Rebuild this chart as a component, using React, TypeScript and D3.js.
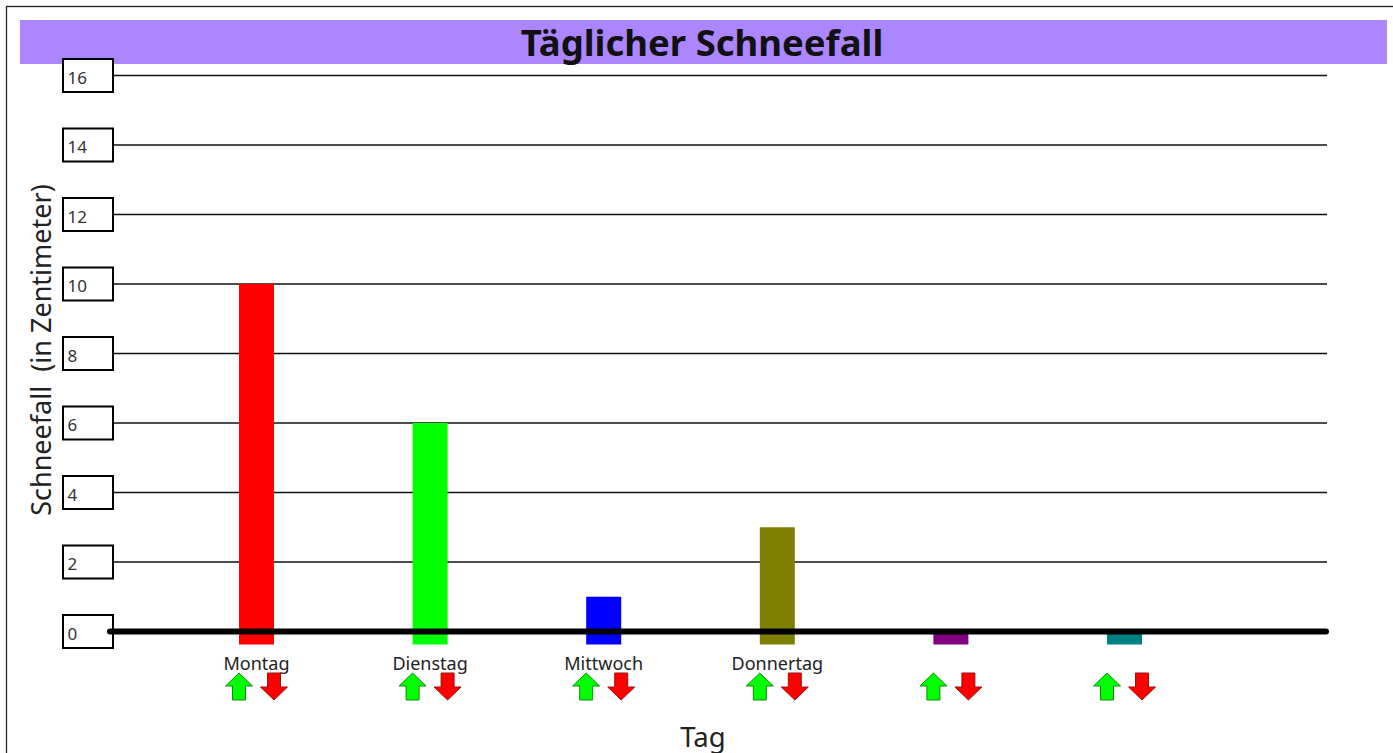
import React from "react";
import * as d3 from "d3";

const days = ["Montag", "Dienstag", "Mittwoch", "Donnertag", "", ""];
const snowfall = [10, 6, 1, 3, 0, 0];
const barColors = ["#ff0000", "#00ff00", "#0000ff", "#808000", "#800080", "#008080"];
const yTicks = [0, 2, 4, 6, 8, 10, 12, 14, 16];

const FONT = "'Noto Sans', 'Open Sans', sans-serif";

export default function App() {
  const y = d3.scaleLinear().domain([0, 16]).range([631.5, 75.5]);
  const x = d3.scalePoint<number>().domain(days.map((_, i) => i)).range([256.5, 1124.5]);
  const barW = 35;
  const gridX0 = 113;
  const gridX1 = 1327;

  const arrowUp = (cx: number, top: number) => {
    const w = 27, h = 27, sw = 13, hh = 13;
    const p = [
      [cx, top],
      [cx + w / 2, top + hh],
      [cx + sw / 2, top + hh],
      [cx + sw / 2, top + h],
      [cx - sw / 2, top + h],
      [cx - sw / 2, top + hh],
      [cx - w / 2, top + hh],
    ];
    return d3.line()(p as [number, number][]) + "Z";
  };
  const arrowDown = (cx: number, top: number) => {
    const w = 27, h = 27, sw = 13, hh = 13;
    const b = top + h;
    const p = [
      [cx, b],
      [cx + w / 2, b - hh],
      [cx + sw / 2, b - hh],
      [cx + sw / 2, top],
      [cx - sw / 2, top],
      [cx - sw / 2, b - hh],
      [cx - w / 2, b - hh],
    ];
    return d3.line()(p as [number, number][]) + "Z";
  };

  return (
    <svg
      width={1393}
      height={753}
      style={{ position: "absolute", left: 0, top: 0, display: "block" }}
      fontFamily={FONT}
    >
      <rect x={6.5} y={6.5} width={1500} height={900} fill="#fff" stroke="#222" strokeWidth={1.3} />
      <rect x={20} y={20} width={1367} height={44} fill="#ab86ff" />
      <text x={702} y={56} textAnchor="middle" fontSize={36.5} fontWeight="bold" fill="#111">
        Täglicher Schneefall
      </text>

      {yTicks.map((t) => (
        <g key={t}>
          {t !== 0 && (
            <line x1={gridX0} x2={gridX1} y1={y(t)} y2={y(t)} stroke="#111" strokeWidth={1.3} />
          )}
          <rect x={63} y={y(t) - 16.5} width={50} height={33} fill="#fff" stroke="#000" strokeWidth={2} />
          <text x={67.5} y={y(t) + 8} fontSize={17} fill="#333">
            {t}
          </text>
        </g>
      ))}

      {snowfall.map((v, i) => (
        <rect
          key={i}
          x={x(i)! - barW / 2}
          y={y(v)}
          width={barW}
          height={y(0) - y(v) + 13}
          fill={barColors[i]}
        />
      ))}

      <line
        x1={110}
        x2={1326}
        y1={y(0)}
        y2={y(0)}
        stroke="#000"
        strokeWidth={6}
        strokeLinecap="round"
      />

      {days.map((d, i) => (
        <g key={i}>
          <text x={x(i)!} y={670} textAnchor="middle" fontSize={18} fill="#222">
            {d}
          </text>
          <path d={arrowUp(x(i)! - 17.5, 673)} fill="#00ff00" stroke="#118811" strokeWidth={1} />
          <path d={arrowDown(x(i)! + 17.5, 673)} fill="#ff0000" stroke="#991111" strokeWidth={1} />
        </g>
      ))}

      <text x={703} y={747} textAnchor="middle" fontSize={27.5} fill="#222">
        Tag
      </text>
      <text
        transform={`translate(51,350) rotate(-90)`}
        textAnchor="middle"
        fontSize={27}
        fill="#222"
        style={{ whiteSpace: "pre" }}
      >
        {"Schneefall  (in Zentimeter)"}
      </text>
    </svg>
  );
}
